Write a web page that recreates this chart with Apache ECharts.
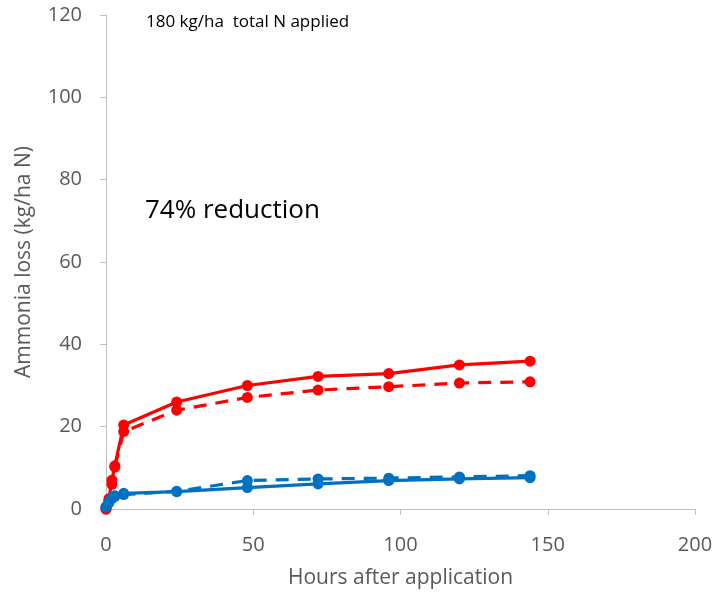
<!DOCTYPE html>
<html><head><meta charset="utf-8">
<script src="https://cdn.jsdelivr.net/npm/echarts@6/dist/echarts.min.js"></script>
<style>html,body{margin:0;padding:0;background:#fff}#c{width:728px;height:594px}</style>
</head><body><div id="c"></div>
<script>
var hours = [0, 1, 2, 3, 6, 24, 48, 72, 96, 120, 144];
var redSolid = [0, 2.5, 7, 10.5, 20.4, 26, 30, 32.2, 32.9, 35, 35.9];
var redDashed = [0, 2, 6, 10.2, 18.8, 24, 27.1, 28.9, 29.7, 30.6, 30.9];
var blueSolid = [0.5, 1.8, 2.8, 3.2, 3.8, 4.2, 5.2, 6.1, 6.9, 7.3, 7.6];
var blueDashed = [0.5, 1.5, 2.6, 3.1, 3.5, 4.3, 6.9, 7.3, 7.5, 7.8, 8.1];
var xTicks = [0, 50, 100, 150, 200];
var yTicks = [0, 20, 40, 60, 80, 100, 120];

function pairs(v){ return hours.map(function(h,i){ return [h, v[i]]; }); }
function ser(name, vals, color, dashed){
  return {name:name, type:'line', data:pairs(vals), symbol:'circle', symbolSize:11,
    itemStyle:{color:color}, lineStyle:{color:color, width:3.2, type: dashed ? [13,9] : 'solid'},
    animation:false};
}
var font = '"Open Sans", "Liberation Sans", Arial, sans-serif';
var chart = echarts.init(document.getElementById('c'));
chart.setOption({
  backgroundColor:'#fff',
  grid:{left:106, right:33, top:15, bottom:84},
  xAxis:{type:'value', min:xTicks[0], max:xTicks[xTicks.length-1], interval:50,
    name:'Hours after application', nameLocation:'middle', nameGap:59,
    nameTextStyle:{color:'#595959', fontSize:21, fontFamily:font},
    axisLine:{show:true, lineStyle:{color:'#BFBFBF', width:1}},
    axisTick:{show:true, length:6, lineStyle:{color:'#BFBFBF'}},
    axisLabel:{color:'#595959', fontSize:20, fontFamily:font, margin:26},
    splitLine:{show:false}},
  yAxis:{type:'value', min:yTicks[0], max:yTicks[yTicks.length-1], interval:20,
    name:'Ammonia loss (kg/ha N)', nameLocation:'middle', nameGap:71,
    nameTextStyle:{color:'#595959', fontSize:21, fontFamily:font},
    axisLine:{show:true, lineStyle:{color:'#BFBFBF', width:1}},
    axisTick:{show:true, length:6, lineStyle:{color:'#BFBFBF'}},
    axisLabel:{color:'#595959', fontSize:20, fontFamily:font, margin:24},
    splitLine:{show:false}},
  series:[
    ser('Red solid', redSolid, '#FF0000', false),
    ser('Red dashed', redDashed, '#FF0000', true),
    ser('Blue solid', blueSolid, '#0070C0', false),
    ser('Blue dashed', blueDashed, '#0070C0', true)
  ],
  graphic:[
    {type:'text', left:146, top:14, style:{text:'180 kg/ha  total N applied', fill:'#000', font:'17px '+font}},
    {type:'text', left:145, top:198, style:{text:'74% reduction', fill:'#000', font:'26px '+font}}
  ]
});
</script></body></html>
